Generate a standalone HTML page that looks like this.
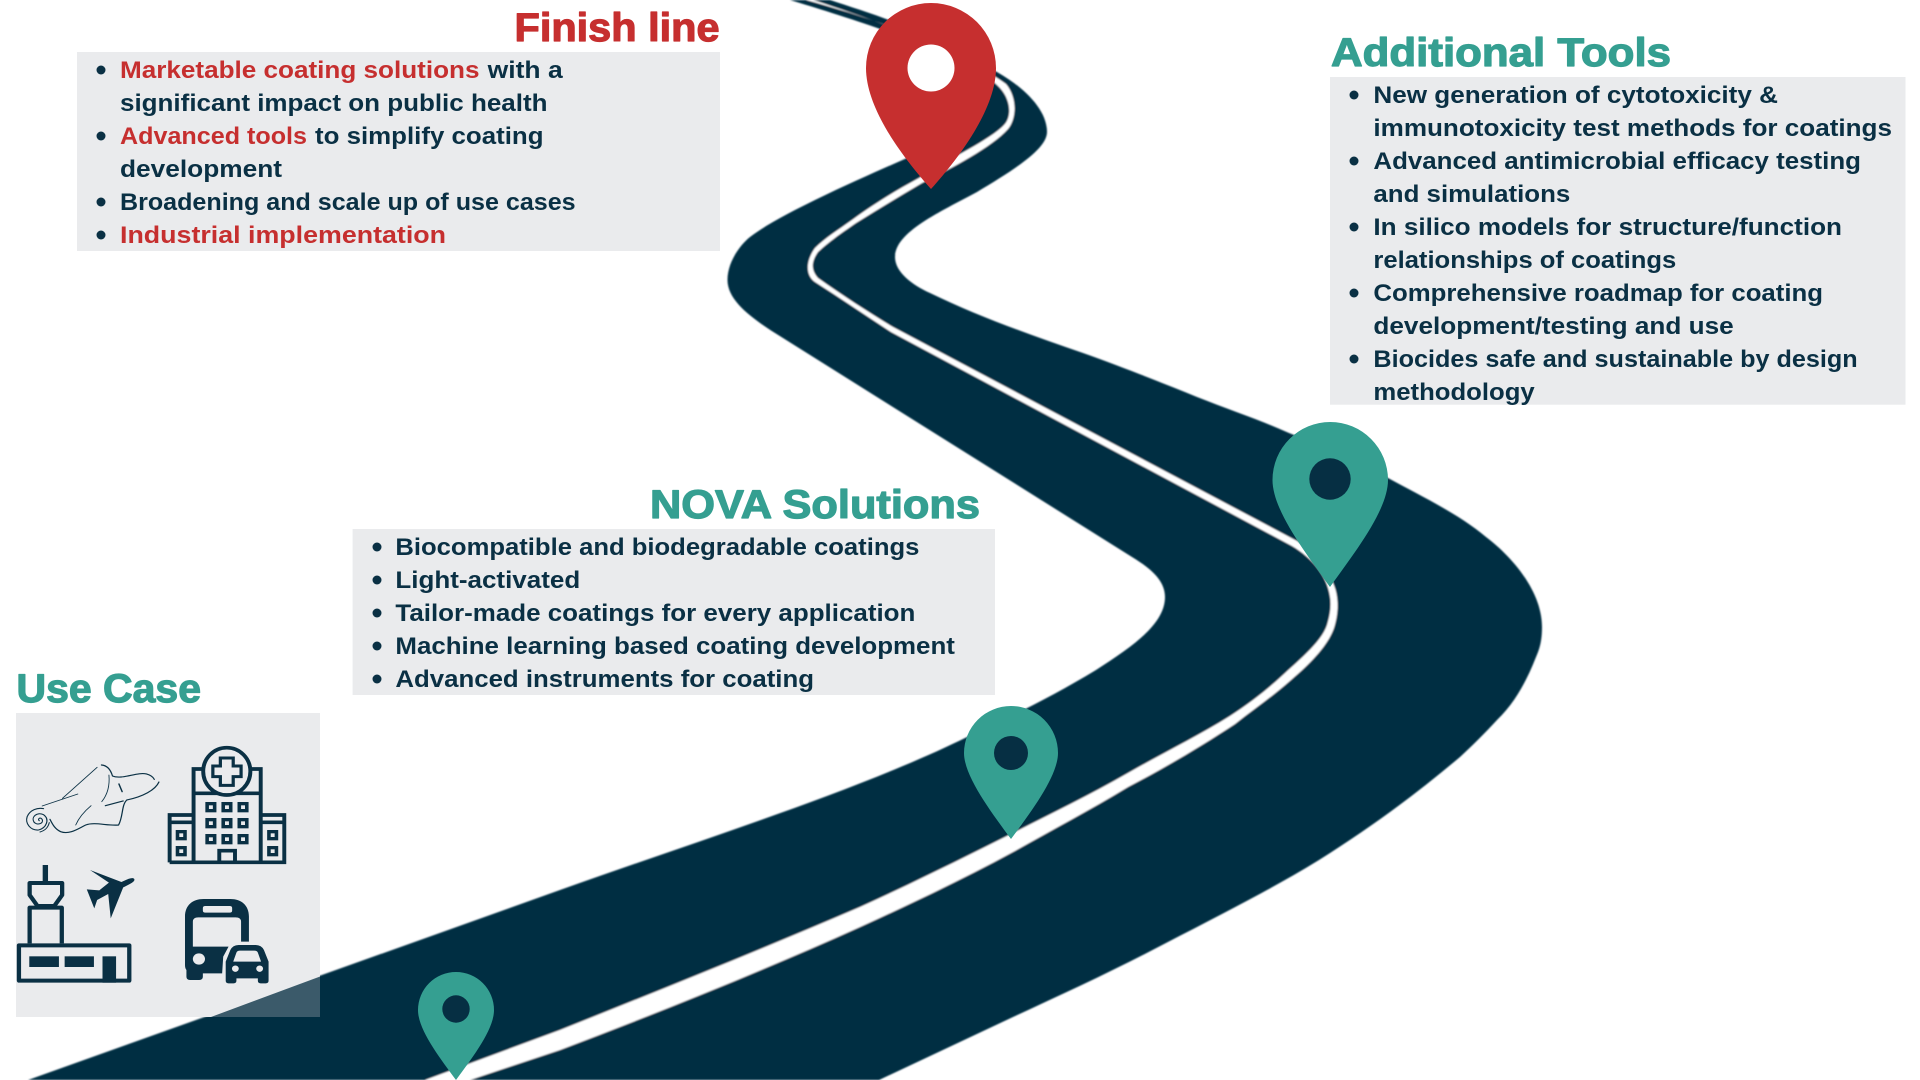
<!DOCTYPE html>
<html lang="en">
<head>
<meta charset="utf-8">
<title>Roadmap</title>
<style>
html,body{margin:0;padding:0;background:#fff;width:1920px;height:1080px;overflow:hidden}
svg{display:block}
text{font-family:"Liberation Sans",Arial,sans-serif;font-weight:700}
.t{font-size:24px;fill:#0a3044}
.r{font-size:24px;fill:#c62f2f}
.hg{font-size:40px;fill:#359f91;stroke:#359f91;stroke-width:1.2px;stroke-linejoin:round}
.hr{font-size:40px;fill:#c62f2f;stroke:#c62f2f;stroke-width:1.2px;stroke-linejoin:round}
</style>
</head>
<body>
<svg xmlns="http://www.w3.org/2000/svg" width="1920" height="1080" viewBox="0 0 1920 1080">
<defs><filter id="b" x="-2%" y="-2%" width="104%" height="104%"><feGaussianBlur stdDeviation="0.8"/></filter></defs>
<rect width="1920" height="1080" fill="#fff"/>

<!-- road -->
<g filter="url(#b)">
<path fill="#062f43" d="M28 1080 L560 890 C700 840 860 790 967 737 C1000 722 1050 698 1096 670 C1130 648 1165 625 1165 597 C1165 580 1150 568 1132 557 L775 333 C750 317 727.5 300 727.5 280 C727.5 262 740 245 750 237 C770 222 795 210 815 200 C850 183 880 170 907 158 C950 135 985 115 985 95 C985 75 960 65 927 47 C900 35 850 18 790 0 L830 0 C860 10 900 22 930 38 C955 52 975 62 997 72 C1025 88 1047 110 1047 132 C1047 150 1010 172 977 192 C940 212 895 232 895 257 C895 272 912 285 930 293 C975 315 1030 335 1083 353 C1125 368 1160 382 1197 397 C1230 410 1260 420 1289 433 C1325 447 1355 460 1388 478 C1425 498 1460 515 1486 537 C1510 555 1542 590 1542 627 C1542 640 1540 648 1536 657 C1527 680 1515 703 1497 720 C1485 733 1472 746 1460 757 C1415 795 1370 828 1319 860 C1270 890 1220 915 1166 943 C1115 970 1065 993 1013 1017 L879 1080 Z"/>
<path fill="#fff" d="M425 1080 L560 1030 C660 990 760 950 860 907 C915 882 965 857 1013 833 C1052 813 1090 795 1128 773 C1163 753 1198 736 1230 716 C1250 703 1268 689 1284 674 C1305 655 1322 640 1327 625 C1331 612 1331 603 1330 597 C1327 575 1312 558 1292 546 L891 332 C865 315 840 298 815 282 C806 276 805 262 815 248 C825 238 838 230 852 220 C875 203 897 190 919 178 C950 158 990 140 1004 125 C1012 117 1011 100 1000 88 C985 72 960 60 940 48 C900 28 850 12 806 0 L813 0 C860 15 915 35 945 50 C965 60 990 72 1006 84 C1017 97 1017 118 1008 129 C992 147 952 168 922 183 C900 196 877 210 856 223 C840 234 830 241 818 252 C811 262 811 270 818 278 C842 295 868 312 893 327 L1297 541 C1316 555 1335 577 1337 597 C1338 605 1338 615 1334 628 C1328 645 1312 662 1291 680 C1273 696 1254 709 1235 724 C1203 745 1170 765 1128 787 C1090 810 1052 830 1013 852 C965 878 915 902 860 927 C760 972 660 1012 560 1050 L470 1080 Z"/>
</g>

<!-- pins -->
<path fill="#c62f2f" d="M931 189 C905 160 866 110 866 68 A65 65 0 1 1 996 68 C996 110 957 160 931 189 Z"/>
<circle cx="931" cy="68" r="23.5" fill="#fff"/>
<path fill="#359f91" d="M1330 587 C1305 552 1272.5 510 1272.5 480 A57.75 58 0 1 1 1388 480 C1388 510 1355 552 1330 587 Z"/>
<circle cx="1330" cy="479" r="20.7" fill="#062f43"/>
<path fill="#359f91" d="M1011 839 C991 812 964 776 964 753 A47 47 0 1 1 1058 753 C1058 776 1031 812 1011 839 Z"/>
<circle cx="1011" cy="753" r="17" fill="#062f43"/>
<path fill="#359f91" d="M456 1080 C440 1058 418 1030 418 1010 A38 38 0 1 1 494 1010 C494 1030 472 1058 456 1080 Z"/>
<circle cx="456" cy="1009" r="13.7" fill="#062f43"/>

<!-- Finish line -->
<rect x="77" y="52" width="643" height="199" fill="#eaebed"/>
<text class="hr" x="514.5" y="41" textLength="205" lengthAdjust="spacingAndGlyphs">Finish line</text>
<g fill="#0a3044">
<circle cx="101" cy="70" r="4.5"/><circle cx="101" cy="136" r="4.5"/><circle cx="101" cy="202" r="4.5"/><circle cx="101" cy="235" r="4.5"/>
</g>
<text class="r" x="120" y="78" textLength="359.5" lengthAdjust="spacingAndGlyphs">Marketable coating solutions</text>
<text class="t" x="487.7" y="78" textLength="75" lengthAdjust="spacingAndGlyphs">with a</text>
<text class="t" x="120" y="111" textLength="427.5" lengthAdjust="spacingAndGlyphs">significant impact on public health</text>
<text class="r" x="120" y="144" textLength="187" lengthAdjust="spacingAndGlyphs">Advanced tools</text>
<text class="t" x="315" y="144" textLength="228.5" lengthAdjust="spacingAndGlyphs">to simplify coating</text>
<text class="t" x="120" y="177" textLength="162" lengthAdjust="spacingAndGlyphs">development</text>
<text class="t" x="120" y="210" textLength="455.6" lengthAdjust="spacingAndGlyphs">Broadening and scale up of use cases</text>
<text class="r" x="120" y="243" textLength="326" lengthAdjust="spacingAndGlyphs">Industrial implementation</text>

<!-- Additional Tools -->
<rect x="1330" y="77" width="575.5" height="327.7" fill="#eaebed"/>
<text class="hg" x="1331" y="66" textLength="340" lengthAdjust="spacingAndGlyphs">Additional Tools</text>
<g fill="#0a3044">
<circle cx="1354" cy="95" r="4.5"/><circle cx="1354" cy="161" r="4.5"/><circle cx="1354" cy="227" r="4.5"/><circle cx="1354" cy="293" r="4.5"/><circle cx="1354" cy="359" r="4.5"/>
</g>
<text class="t" x="1373.4" y="103" textLength="404.6" lengthAdjust="spacingAndGlyphs">New generation of cytotoxicity &amp;</text>
<text class="t" x="1373.4" y="136" textLength="518.6" lengthAdjust="spacingAndGlyphs">immunotoxicity test methods for coatings</text>
<text class="t" x="1373.4" y="169" textLength="487.6" lengthAdjust="spacingAndGlyphs">Advanced antimicrobial efficacy testing</text>
<text class="t" x="1373.4" y="202" textLength="196.9" lengthAdjust="spacingAndGlyphs">and simulations</text>
<text class="t" x="1373.4" y="235" textLength="468.6" lengthAdjust="spacingAndGlyphs">In silico models for structure/function</text>
<text class="t" x="1373.4" y="268" textLength="302.9" lengthAdjust="spacingAndGlyphs">relationships of coatings</text>
<text class="t" x="1373.4" y="301" textLength="449.6" lengthAdjust="spacingAndGlyphs">Comprehensive roadmap for coating</text>
<text class="t" x="1373.4" y="334" textLength="360.3" lengthAdjust="spacingAndGlyphs">development/testing and use</text>
<text class="t" x="1373.4" y="367" textLength="484.3" lengthAdjust="spacingAndGlyphs">Biocides safe and sustainable by design</text>
<text class="t" x="1373.4" y="400" textLength="161.3" lengthAdjust="spacingAndGlyphs">methodology</text>

<!-- NOVA Solutions -->
<rect x="352.6" y="529" width="642.4" height="166" fill="#eaebed"/>
<text class="hg" x="650" y="518" textLength="330" lengthAdjust="spacingAndGlyphs">NOVA Solutions</text>
<g fill="#0a3044">
<circle cx="377" cy="547" r="4.5"/><circle cx="377" cy="580" r="4.5"/><circle cx="377" cy="613" r="4.5"/><circle cx="377" cy="646" r="4.5"/><circle cx="377" cy="679" r="4.5"/>
</g>
<text class="t" x="395.4" y="555" textLength="524" lengthAdjust="spacingAndGlyphs">Biocompatible and biodegradable coatings</text>
<text class="t" x="395.4" y="588" textLength="184.8" lengthAdjust="spacingAndGlyphs">Light-activated</text>
<text class="t" x="395.4" y="621" textLength="520" lengthAdjust="spacingAndGlyphs">Tailor-made coatings for every application</text>
<text class="t" x="395.4" y="654" textLength="559.5" lengthAdjust="spacingAndGlyphs">Machine learning based coating development</text>
<text class="t" x="395.4" y="687" textLength="418.6" lengthAdjust="spacingAndGlyphs">Advanced instruments for coating</text>

<!-- Use Case -->
<rect x="16" y="713" width="304" height="304" fill="rgb(189,192,198)" fill-opacity="0.31"/>
<path fill="#eaebed" d="M16 713 H320 V976.5 L211 1017 H16 Z"/>
<text class="hg" x="16.5" y="702" textLength="184.5" lengthAdjust="spacingAndGlyphs">Use Case</text>

<!-- icons: drawn in zoomed coordinates -->
<g transform="translate(0,660) scale(0.35714,0.33333)" fill="none" stroke="#0a3044">
  <!-- hospital -->
  <g stroke-width="11">
    <path d="M542 612 V327 H730 V612"/>
    <path d="M475 607 H796 V465 H735 M475 607 V465 H540 M475 487 H540 M735 487 H796"/>
    <path d="M542 400 H730"/>
    <ellipse cx="635" cy="334" rx="66" ry="71" fill="#eaebed"/>
    <path d="M617 294 H653 V318 H675 V350 H653 V376 H617 V350 H596 V318 H617 Z" stroke-width="9"/>
    <path d="M614 607 V572 H658 V607"/>
  </g>
  <g stroke-width="10" fill="none">
    <rect x="580" y="431" width="21" height="21"/><rect x="625" y="431" width="21" height="21"/><rect x="670" y="431" width="21" height="21"/>
    <rect x="580" y="479" width="21" height="21"/><rect x="625" y="479" width="21" height="21"/><rect x="670" y="479" width="21" height="21"/>
    <rect x="580" y="527" width="21" height="21"/><rect x="625" y="527" width="21" height="21"/><rect x="670" y="527" width="21" height="21"/>
    <rect x="497" y="515" width="21" height="21"/><rect x="497" y="563" width="21" height="21"/>
    <rect x="753" y="515" width="21" height="21"/><rect x="753" y="563" width="21" height="21"/>
  </g>
  <!-- airport -->
  <g stroke-width="12" stroke-linejoin="round">
    <rect x="53" y="856" width="309" height="106"/>
    <path d="M83 850 V743 H173 V850"/>
    <path d="M83 669 H174 V705 L152 738 H105 L83 705 Z"/>
    <path d="M127 615 V665" stroke-width="15"/>
  </g>
  <g fill="#0a3044" stroke="none">
    <rect x="82" y="889" width="83" height="32"/><rect x="181" y="889" width="82" height="32"/><rect x="287" y="889" width="38" height="79"/>
    <!-- plane -->
    <path d="M376 657 C378 664 372 668 345 682 L310 775 L303 702 L272 720 L264 745 L243 688 L278 691 L305 668 L252 630 L340 666 C355 658 372 650 376 657 Z"/>
    <!-- bus -->
    <path fill-rule="evenodd" d="M518 770 C518 735 540 717 570 717 H645 C675 717 697 735 697 770 V845 H675 V785 Q675 772 660 772 H555 Q540 772 540 785 V860 H640 L625 890 L622 940 H568 V950 Q568 960 558 960 H532 Q522 960 522 950 V930 Q518 925 518 915 Z M568 744 Q568 738 575 738 H643 Q650 738 650 744 V752 Q650 758 643 758 H575 Q568 758 568 752 Z"/>
    <!-- car -->
    <path fill-rule="evenodd" d="M632 905 L645 870 Q652 855 668 855 H716 Q732 855 739 870 L752 905 V962 Q752 970 744 970 H730 Q722 970 722 962 V955 H662 V962 Q662 970 654 970 H640 Q632 970 632 962 Z M653 905 H731 L722 878 Q720 872 712 872 H672 Q664 872 662 878 Z"/>
  </g>
  <g fill="#eaebed" stroke="none">
    <circle cx="557" cy="897" r="17"/>
    <circle cx="659" cy="926" r="9.5"/><circle cx="727" cy="926" r="9.5"/>
  </g>
  <!-- fabric roll -->
  <g stroke-width="2.4" stroke-linecap="round">
    <path d="M118 438 L218 402 M175 415 L272 322"/>
    <path d="M284 315 C300 316 310 330 315 348 C340 360 385 335 410 342 C420 345 428 350 432 358" stroke-width="3.5"/>
    <path d="M445 366 C435 390 400 410 355 420 C340 435 345 470 332 495 C300 498 265 485 240 495 C220 505 195 525 170 515 C155 508 148 495 140 478" stroke-width="3.5"/>
    <path d="M305 345 C308 380 300 405 285 425"/>
    <path d="M333 372 L342 395" stroke-width="4"/>
    <path d="M295 437 L345 423" stroke-width="3.5"/>
    <path d="M255 437 C235 455 220 475 212 495"/>
    <path d="M110 482 C104 478 112 470 118 478 C124 490 104 498 95 486 C86 470 105 455 122 464 C140 478 130 504 108 510 C85 512 70 490 76 470 C84 450 105 442 122 446" stroke-width="3.2"/>
    <path d="M138 488 C134 505 125 512 112 516" stroke-width="3"/>
  </g>
</g>
</svg>
</body>
</html>
